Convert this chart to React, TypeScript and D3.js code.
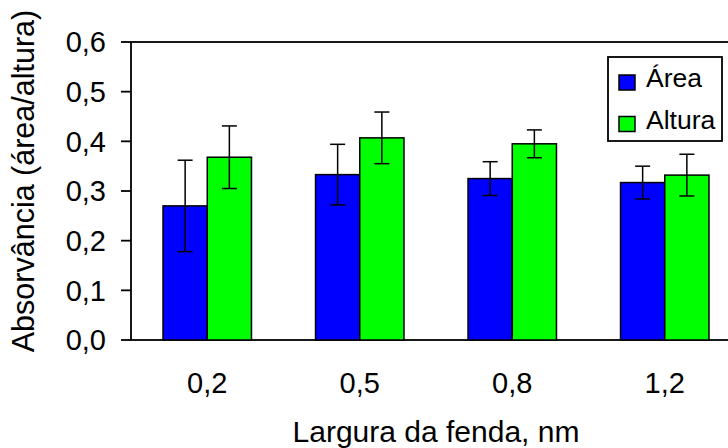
import * as d3 from "d3";
import React from "react";

const categories = ["0,2", "0,5", "0,8", "1,2"];
const seriesNames = ["Área", "Altura"];
const seriesColors = ["#0000ff", "#00ff00"];
const areaValues = [0.27, 0.333, 0.325, 0.317];
const areaErrors = [0.092, 0.061, 0.034, 0.033];
const alturaValues = [0.368, 0.407, 0.395, 0.332];
const alturaErrors = [0.063, 0.052, 0.028, 0.042];
const yTicks = [0, 0.1, 0.2, 0.3, 0.4, 0.5, 0.6];

const width = 728;
const height = 448;
const margin = { left: 131, right: -13, top: 42, bottom: 108 };
const font = "'Liberation Sans', Arial, sans-serif";

const App = () => {
  const innerRight = width - margin.right;
  const innerBottom = height - margin.bottom;

  const xScale = d3.scaleBand<string>()
    .domain(categories)
    .range([margin.left, innerRight]);

  const seriesScale = d3.scaleBand<string>()
    .domain(seriesNames)
    .range([-xScale.bandwidth() * 0.29, xScale.bandwidth() * 0.29]);

  const yScale = d3.scaleLinear()
    .domain([0, 0.6])
    .range([innerBottom, margin.top]);

  const fmt = (v: number) => d3.format(".1f")(v).replace(".", ",");

  const series = [
    { name: seriesNames[0], color: seriesColors[0], values: areaValues, errors: areaErrors },
    { name: seriesNames[1], color: seriesColors[1], values: alturaValues, errors: alturaErrors },
  ];

  return (
    <svg width={width} height={height}
      style={{ position: "absolute", left: 0, top: 0, background: "#fff" }}
      fontFamily={font}>
      {/* frame */}
      <rect x={margin.left} y={margin.top}
        width={innerRight - margin.left} height={innerBottom - margin.top}
        fill="none" stroke="#000" strokeWidth={1.8} />

      {/* bars */}
      {series.map((s) => (
        <g key={s.name}>
          {categories.map((c, i) => {
            const x0 = xScale(c)! + xScale.bandwidth() / 2 + seriesScale(s.name)!;
            const bw = seriesScale.bandwidth();
            const yTop = yScale(s.values[i]);
            const cx = x0 + bw / 2;
            const yHi = yScale(s.values[i] + s.errors[i]);
            const yLo = yScale(s.values[i] - s.errors[i]);
            return (
              <g key={c}>
                <rect x={x0} y={yTop} width={bw} height={innerBottom - yTop}
                  fill={s.color} stroke="#000" strokeWidth={1.5} />
                <line x1={cx} x2={cx} y1={yHi} y2={yLo} stroke="#000" strokeWidth={1.5} />
                <line x1={cx - 7.5} x2={cx + 7.5} y1={yHi} y2={yHi} stroke="#000" strokeWidth={1.5} />
                <line x1={cx - 7.5} x2={cx + 7.5} y1={yLo} y2={yLo} stroke="#000" strokeWidth={1.5} />
              </g>
            );
          })}
        </g>
      ))}

      {/* y axis */}
      {yTicks.map((t) => (
        <g key={t} transform={`translate(${margin.left},${yScale(t)})`}>
          <line x1={-10} x2={0} stroke="#000" strokeWidth={1.8} />
          <text x={-25} dy="0.36em" textAnchor="end" fontSize={29}>{fmt(t)}</text>
        </g>
      ))}

      {/* x axis labels */}
      {categories.map((c) => (
        <text key={c} x={xScale(c)! + xScale.bandwidth() / 2} y={393}
          textAnchor="middle" fontSize={29}>{c}</text>
      ))}

      <text x={(margin.left + innerRight) / 2} y={442} textAnchor="middle" fontSize={30}>
        Largura da fenda, nm
      </text>
      <text transform="translate(34,181) rotate(-90)"
        textAnchor="middle" fontSize={30.5}>
        Absorvância (área/altura)
      </text>

      {/* legend */}
      <g>
        <rect x={608} y={57} width={114} height={84} fill="#fff" stroke="#000" strokeWidth={1.8} />
        {series.map((s, i) => (
          <g key={s.name} transform={`translate(619,${75 + i * 41.5})`}>
            <rect width={16} height={15} fill={s.color} stroke="#000" strokeWidth={1.5} />
            <text x={27} y={12} fontSize={26.5}>{s.name}</text>
          </g>
        ))}
      </g>
    </svg>
  );
};

export default App;
